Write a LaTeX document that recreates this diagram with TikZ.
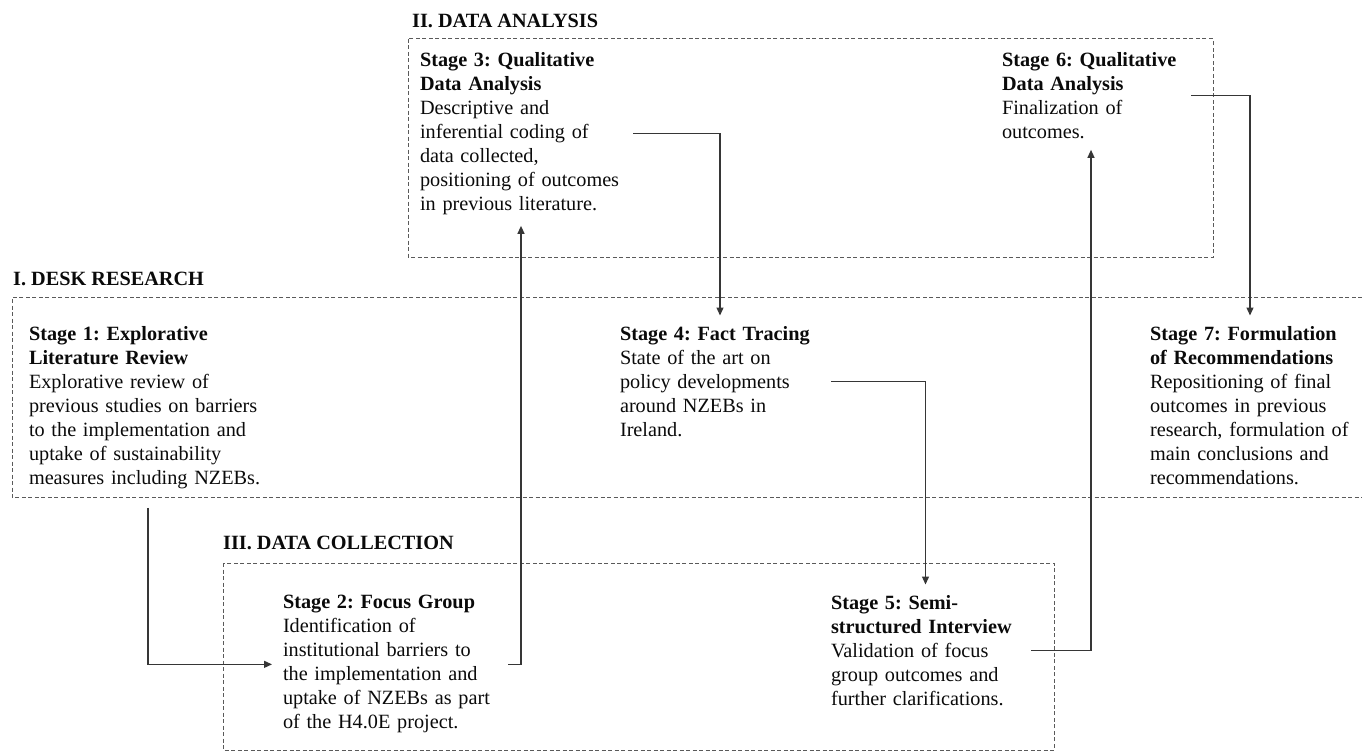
\documentclass[tikz,border=0pt]{standalone}
\usepackage{fontspec}
\setmainfont{Liberation Serif}
\usetikzlibrary{arrows.meta}
\definecolor{txt}{HTML}{0A0A0A}
\definecolor{linec}{HTML}{363636}
\definecolor{dashc}{HTML}{5A5A5A}
\frenchspacing
\begin{document}
\begin{tikzpicture}[x=1pt,y=-1pt,
  stage/.style={anchor=north west, inner sep=0pt, outer sep=11pt, align=left,
    font=\fontsize{20.25}{24}\selectfont\frenchspacing, text=txt},
  grp/.style={anchor=base west, inner sep=0pt,
    font=\fontsize{20.25}{24}\selectfont\bfseries, text=txt},
  zone/.style={draw=dashc, line width=1pt, dash pattern=on 4pt off 2.5pt},
  conn/.style={draw=linec, line width=1.3pt, -{Triangle[length=8pt,width=7pt]}}]
\useasboundingbox (0,0) rectangle (1362,752);

% group frames
\draw[zone] (408,39) rectangle (1213,257);
\draw[zone] (1375,297) -- (12,297) -- (12,497) -- (1375,497);
\draw[zone] (223,563) rectangle (1054,750);

% group labels
\node[grp] (g2) at (412,28) {II. DATA ANALYSIS};
\node[grp] (g1) at (13,285) {I. DESK RESEARCH};
\node[grp] (g3) at (223,549) {III. DATA COLLECTION};

% stages
\node[stage, text width=238pt, outer ysep=19pt] (s1) at (18,307.5)
  {\textbf{Stage 1: Explorative}\\\textbf{Literature Review}\\Explorative review of\\previous studies on barriers\\to the implementation and\\uptake of sustainability\\measures including NZEBs.};
\node[stage, text width=214pt] (s2) at (272,584.5)
  {\textbf{Stage 2: Focus Group}\\Identification of\\institutional barriers to\\the implementation and\\uptake of NZEBs as part\\of the H4.0E project.};
\node[stage, text width=202pt] (s3) at (409,41.5)
  {\textbf{Stage 3: Qualitative}\\\textbf{Data Analysis}\\Descriptive and\\inferential coding of\\data collected,\\positioning of outcomes\\in previous literature.};
\node[stage, text width=200pt] (s4) at (609,315.5)
  {\textbf{Stage 4: Fact Tracing}\\State of the art on\\policy developments\\around NZEBs in\\Ireland.};
\node[stage, text width=189pt] (s5) at (820,584.5)
  {\textbf{Stage 5: Semi-}\\\textbf{structured Interview}\\Validation of focus\\group outcomes and\\further clarifications.};
\node[stage, text width=178pt] (s6) at (991,41.5)
  {\textbf{Stage 6: Qualitative}\\\textbf{Data Analysis}\\Finalization of\\outcomes.};
\node[stage, text width=200pt] (s7) at (1139,315.5)
  {\textbf{Stage 7: Formulation}\\\textbf{of Recommendations}\\Repositioning of final\\outcomes in previous\\research, formulation of\\main conclusions and\\recommendations.};

% connectors
\draw[conn] (s1.south) |- (s2.west);
\draw[conn] (s2.east) -| (s3.south);
\draw[conn] (s3.east) -| (s4.north);
\draw[conn] (s4.east) -| (s5.north);
\draw[conn] (s5.east) -| (s6.south);
\draw[conn] (s6.east) -| (s7.north);
\end{tikzpicture}
\end{document}
